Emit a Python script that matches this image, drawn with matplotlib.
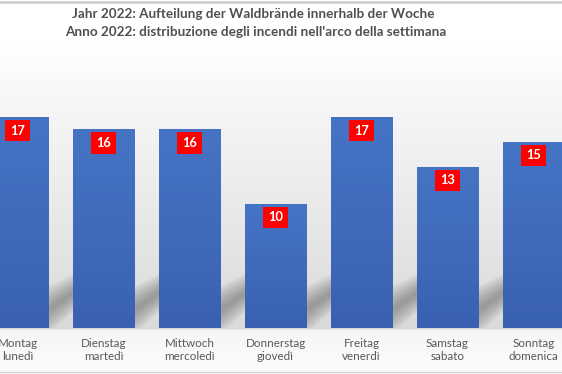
import numpy as np
import matplotlib
matplotlib.use("Agg")
from matplotlib import pyplot as plt
from matplotlib.patches import Polygon
from matplotlib.colors import LinearSegmentedColormap

plt.rcParams['font.family'] = ['Lato', 'DejaVu Sans']

title_de = "Jahr 2022: Aufteilung der Waldbrände innerhalb der Woche"
title_it = "Anno 2022: distribuzione degli incendi nell'arco della settimana"
days_de = ["Montag", "Dienstag", "Mittwoch", "Donnerstag", "Freitag", "Samstag", "Sonntag"]
days_it = ["lunedì", "martedì", "mercoledì", "giovedì", "venerdì", "sabato", "domenica"]
fires = [17, 16, 16, 10, 17, 13, 15]

W, H = 562, 374
fig = plt.figure(figsize=(W / 100, H / 100), dpi=100)

# background with soft grey gradient
bg = fig.add_axes([0, 0, 1, 1], zorder=0)
py = np.arange(H)
gray = np.interp(py, [0, 40, 328, 330, 374], [1.0, 1.0, 0.855, 0.965, 0.99])
img = np.repeat(gray[:, None, None], 3, axis=2)
bg.imshow(img, extent=[0, 1, 0, 1], aspect='auto', transform=bg.transAxes)
bg.axhline(1 - 1.5 / H, color='#d0d0d0', lw=2)
bg.axhline(1 - 372 / H, color='#d4d4d4', lw=1)
bg.set_xlim(0, 1)
bg.set_ylim(0, 1)
bg.axis('off')

ax = fig.add_axes([0, 46 / H, 1, 248.4 / H], zorder=1)
ax.patch.set_visible(False)
x = np.arange(len(fires))
width = 0.71

# soft shadows in the gaps (several translucent layers)
for i in x:
    xr = i + width / 2
    xl = i + 1 - width / 2
    for h in np.linspace(1.9, 0.2, 10):
        shadow = Polygon([(xr, 1.45 - h), (xr, 1.45 + h), (xl, 2.8 + h * 0.8), (xl, 2.8 - h * 0.8)],
                         closed=True, facecolor='#555555', edgecolor='none', alpha=0.06)
        shadow.set_zorder(1.5)
        ax.add_patch(shadow)

bars = ax.bar(x, fires, width=width, color='#4070c0', edgecolor='#8fabdc', linewidth=0.6, zorder=2)
cmap = LinearSegmentedColormap.from_list('blu', ['#3a61b1', '#4674c5'])
grad = np.linspace(0, 1, 100)[:, None]
for b in bars:
    im = ax.imshow(grad, extent=[b.get_x(), b.get_x() + b.get_width(), 0, b.get_height()],
                   origin='lower', aspect='auto', cmap=cmap, zorder=2.1)
    im.set_clip_path(b)

for i, v in zip(x, fires):
    ax.text(i, v - 1.1, str(v), ha='center', va='center', color='white',
            fontweight='bold', fontsize=9.3,
            bbox=dict(boxstyle='square,pad=0.36', fc='#ff0000', ec='none'), zorder=3)

ax.set_xlim(-0.2035, 6.331)
ax.set_ylim(0, 20)
ax.set_xticks(x)
ax.set_xticklabels([f"{d}\n{it}" for d, it in zip(days_de, days_it)],
                   color='#595959', fontsize=8.4, linespacing=1.2)
ax.tick_params(axis='x', length=0, pad=7)
ax.set_yticks([])
for s in ax.spines.values():
    s.set_visible(False)

fig.text(253 / W, 1 - 14 / H, title_de, ha='center', va='center',
         fontsize=9.7, fontweight='bold', color='#505050')
fig.text(256 / W, 1 - 32 / H, title_it, ha='center', va='center',
         fontsize=9.7, fontweight='bold', color='#505050')

fig.savefig('out.png', dpi=100)
